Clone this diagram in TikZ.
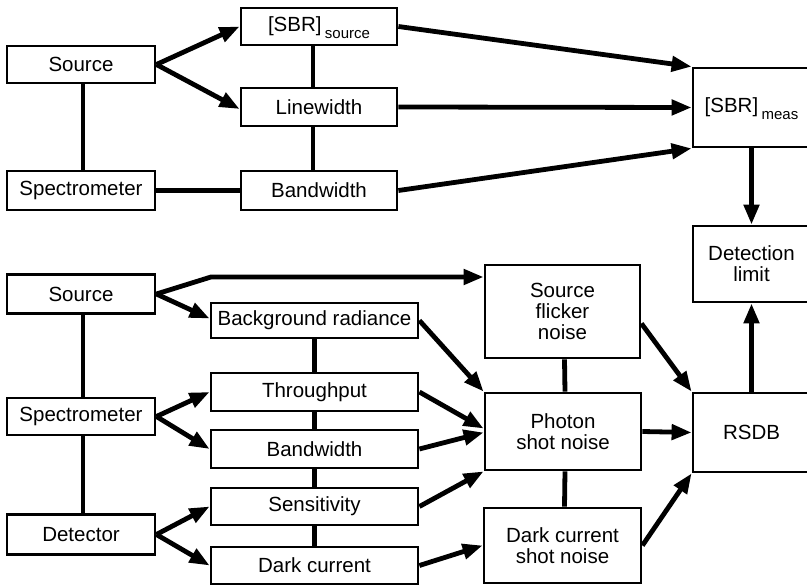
\documentclass[tikz,border=0pt]{standalone}
\usepackage{fontspec}
\setmainfont{Liberation Sans}
\usetikzlibrary{arrows.meta}
\begin{document}
\begin{tikzpicture}[x=1pt,y=-1pt,
  box/.style={draw, line width=2.8pt, inner sep=0pt, align=center, font=\fontsize{20.5}{21}\selectfont},
  arr/.style={line width=4.8pt, -{Triangle[length=20pt,width=15pt]}},
  lnk/.style={line width=4.8pt}]
\useasboundingbox (0,0) rectangle (807,588);
\clip (0,0) rectangle (807,588);
\fill[white] (0,0) rectangle (807,588);
% ---------- top part ----------
\node[box, minimum width=148pt, minimum height=37pt] (src1) at (81,64.5) {Source};
\node[box, minimum width=148pt, minimum height=39pt] (spec1) at (81,190.5) {Spectrometer};
\node[box, minimum width=156pt, minimum height=37pt] (sbrs) at (319,26.5) {[SBR]\,\raisebox{-7pt}[0pt][0pt]{\fontsize{15}{15}\selectfont source}};
\node[box, minimum width=156pt, minimum height=38pt] (linew) at (319,107) {Linewidth};
\node[box, minimum width=156pt, minimum height=39pt] (bw1) at (319,190.5) {Bandwidth};
\node[box, minimum width=117pt, minimum height=79pt] (sbrm) at (751.5,107.5) {[SBR]\,\raisebox{-7pt}[0pt][0pt]{\fontsize{15}{15}\selectfont meas}};
\node[box, minimum width=117pt, minimum height=76pt] (det) at (751.5,264) {Detection\\limit};
% ---------- bottom part ----------
\node[box, minimum width=148pt, minimum height=39pt] (src2) at (81,294) {Source};
\node[box, minimum width=148pt, minimum height=37pt] (spec2) at (81,416.5) {Spectrometer};
\node[box, minimum width=148pt, minimum height=40pt] (dtr) at (81,534.5) {Detector};
\node[box, minimum width=207pt, minimum height=35pt] (bg) at (314.5,320.5) {Background radiance};
\node[box, minimum width=207pt, minimum height=38pt] (thr) at (314.5,392) {Throughput};
\node[box, minimum width=207pt, minimum height=38pt] (bw2) at (314.5,449) {Bandwidth};
\node[box, minimum width=207pt, minimum height=37pt] (sens) at (314.5,506.5) {Sensitivity};
\node[box, minimum width=207pt, minimum height=37pt] (dark) at (314.5,565.5) {Dark current};
\node[box, minimum width=155pt, minimum height=93pt] (sfn) at (562.5,311.5) {Source\\flicker\\noise};
\node[box, minimum width=156pt, minimum height=77pt] (psn) at (563,431.5) {Photon\\shot noise};
\node[box, minimum width=157pt, minimum height=75pt] (dcsn) at (562.5,545.5) {Dark current\\shot noise};
\node[box, minimum width=117pt, minimum height=79pt] (rsdb) at (751.5,432.5) {RSDB};
% ---------- top connectors ----------
\draw[lnk] ([xshift=2pt]src1.south) -- ([xshift=2pt]spec1.north);
\draw[lnk] (spec1.east) -- (bw1.west);
\draw[lnk] ([xshift=-6pt]sbrs.south) -- ([xshift=-6pt]linew.north);
\draw[lnk] ([xshift=-6pt]linew.south) -- ([xshift=-6pt]bw1.north);
\draw[arr] (src1.east) -- (sbrs.west);
\draw[arr] (src1.east) -- ([yshift=-2pt]linew.west);
\draw[arr] (sbrs.east) -- (sbrm.north west);
\draw[arr] (linew.east) -- (sbrm.west);
\draw[arr] (bw1.east) -- (sbrm.south west);
\draw[arr] (sbrm.south) -- (det.north);
% ---------- bottom connectors ----------
\draw[lnk] ([xshift=2pt]src2.south) -- ([xshift=2pt]spec2.north);
\draw[lnk] ([xshift=2pt]spec2.south) -- ([xshift=2pt]dtr.north);
\draw[lnk] (bg.south) -- (thr.north);
\draw[lnk] (thr.south) -- (bw2.north);
\draw[lnk] (bw2.south) -- (sens.north);
\draw[lnk] (sens.south) -- (dark.north);
\draw[lnk] ([xshift=2pt]sfn.south) -- ([xshift=2pt]psn.north);
\draw[lnk] ([xshift=2pt]psn.south) -- ([xshift=2pt]dcsn.north);
\coordinate (k1) at (211,277);
\draw[arr] (src2.east) -- (k1) -- (k1 -| sfn.west);
\draw[arr] (src2.east) -- ([yshift=2pt]bg.west);
\draw[arr] (spec2.east) -- (thr.west);
\draw[arr] (spec2.east) -- (bw2.west);
\draw[arr] (dtr.east) -- (sens.west);
\draw[arr] (dtr.east) -- (dark.west);
\draw[arr] (bg.east) -- (psn.north west);
\draw[arr] (thr.east) -- ([yshift=3pt]psn.west);
\draw[arr] (bw2.east) -- ([yshift=-1pt]psn.west);
\draw[arr] (sens.east) -- (psn.south west);
\draw[arr] (dark.east) -- (dcsn.west);
\draw[arr] (psn.east) -- (rsdb.west);
\draw[arr] ([yshift=-12pt]sfn.east) -- (rsdb.north west);
\draw[arr] (dcsn.east) -- (rsdb.south west);
\draw[arr] (rsdb.north) -- (det.south);
\end{tikzpicture}
\end{document}
